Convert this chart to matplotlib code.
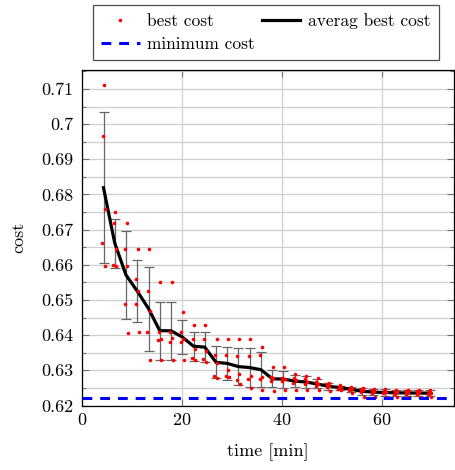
import numpy as np
import matplotlib
matplotlib.use("Agg")
import matplotlib.pyplot as plt
from matplotlib.ticker import FixedLocator, FuncFormatter
from matplotlib.lines import Line2D

plt.rcParams['font.family'] = ['cmr10', 'DejaVu Serif']
plt.rcParams['mathtext.fontset'] = 'cm'
plt.rcParams['axes.formatter.use_mathtext'] = True

# ---- data ----
group_times = [4.3, 6.55, 8.8, 11.05, 13.3, 15.55, 17.8, 20.05, 22.3, 24.55,
               26.8, 29.05, 31.3, 33.55, 35.8, 38.05, 40.3, 42.55, 44.8, 47.05,
               49.3, 51.55, 53.8, 56.05, 58.3, 60.55, 62.8, 65.05, 67.3, 69.55]
run_time_shift = [0.1, -0.2, 0.2, -0.3, 0.3]
best_cost = [
    [0.7111, 0.6966, 0.6759, 0.6663, 0.6597],
    [0.6750, 0.6718, 0.6645, 0.6599, 0.6597],
    [0.6718, 0.6645, 0.6597, 0.6488, 0.6407],
    [0.6645, 0.6560, 0.6525, 0.6488, 0.6408],
    [0.6645, 0.6526, 0.6469, 0.6408, 0.6330],
    [0.6550, 0.6409, 0.6390, 0.6385, 0.6330],
    [0.6550, 0.6410, 0.6392, 0.6380, 0.6330],
    [0.6466, 0.6409, 0.6389, 0.6380, 0.6330],
    [0.6429, 0.6389, 0.6360, 0.6335, 0.6330],
    [0.6429, 0.6389, 0.6355, 0.6332, 0.6325],
    [0.6389, 0.6344, 0.6320, 0.6283, 0.6278],
    [0.6389, 0.6344, 0.6300, 0.6285, 0.6280],
    [0.6389, 0.6340, 0.6290, 0.6272, 0.6262],
    [0.6389, 0.6340, 0.6285, 0.6275, 0.6250],
    [0.6365, 0.6344, 0.6280, 0.6275, 0.6245],
    [0.6310, 0.6280, 0.6278, 0.6270, 0.6242],
    [0.6310, 0.6277, 0.6275, 0.6270, 0.6243],
    [0.6290, 0.6277, 0.6272, 0.6265, 0.6243],
    [0.6285, 0.6276, 0.6268, 0.6262, 0.6243],
    [0.6277, 0.6268, 0.6262, 0.6256, 0.6243],
    [0.6265, 0.6260, 0.6256, 0.6252, 0.6240],
    [0.6258, 0.6254, 0.6252, 0.6248, 0.6243],
    [0.6252, 0.6250, 0.6247, 0.6245, 0.6236],
    [0.6250, 0.6246, 0.6243, 0.6238, 0.6225],
    [0.6248, 0.6243, 0.6240, 0.6236, 0.6223],
    [0.6246, 0.6242, 0.6239, 0.6235, 0.6223],
    [0.6245, 0.6241, 0.6238, 0.6234, 0.6223],
    [0.6244, 0.6240, 0.6237, 0.6234, 0.6223],
    [0.6244, 0.6240, 0.6237, 0.6233, 0.6223],
    [0.6243, 0.6240, 0.6236, 0.6233, 0.6223],
]
minimum_cost = 0.6222
x_ticks = [0, 20, 40, 60]
y_ticks = [0.62, 0.63, 0.64, 0.65, 0.66, 0.67, 0.68, 0.69, 0.70, 0.71]

# ---- derived ----
t = np.array(group_times)
bc = np.array(best_cost)
mean_cost = bc.mean(axis=1)
std_cost = bc.std(axis=1, ddof=1)
dot_t = (t[:, None] + np.array(run_time_shift)[None, :]).ravel()
dot_c = bc.ravel()

W, H = 455, 470
fig = plt.figure(figsize=(W / 100, H / 100), dpi=100)
ax = fig.add_axes([82 / W, (H - 405.5) / H, (454 - 82) / W, (405.5 - 70) / H])

FS = 13
LFS = 12.5
ax.set_xlim(0, 74.4)
ax.set_ylim(0.62, 0.7154)

ax.xaxis.set_major_locator(FixedLocator(x_ticks))
ax.yaxis.set_major_locator(FixedLocator(y_ticks))
ax.yaxis.set_minor_locator(FixedLocator([v + 0.005 for v in y_ticks]))
ax.yaxis.set_major_formatter(FuncFormatter(lambda v, p: '{:g}'.format(round(v, 3))))
ax.tick_params(which='both', direction='in', top=True, right=True, color='0.45',
               width=0.8, labelsize=FS)
ax.tick_params(which='major', length=5)
ax.tick_params(which='minor', length=3)
ax.tick_params(axis='y', pad=6)
ax.tick_params(axis='x', pad=5)

ax.grid(True, which='major', color='#cfcfcf', lw=0.9)
ax.grid(True, which='minor', axis='y', color='#cfcfcf', lw=0.9)
ax.set_axisbelow(True)
for s in ax.spines.values():
    s.set_linewidth(0.9)
    s.set_color('black')

ax.errorbar(t, mean_cost, yerr=std_cost, fmt='none', ecolor='0.4', elinewidth=0.9,
            capsize=3.3, capthick=0.9, zorder=2)
ax.plot(t, mean_cost, color='black', lw=2.3, zorder=3, solid_joinstyle='miter')
ax.plot(dot_t, dot_c, linestyle='none', marker='o', ms=2.6, mfc='red', mec='red',
        mew=0, zorder=4)
ax.axhline(minimum_cost, color='#0000ff', lw=2.2, dashes=(3.2, 2.6), zorder=5)

ax.set_xlabel('time [min]', fontsize=FS, labelpad=11)
ax.set_ylabel('cost', fontsize=FS, labelpad=11)

h_dot = Line2D([], [], linestyle='none', marker='o', ms=2.6, mfc='red', mec='red', mew=0)
h_min = Line2D([], [], color='#0000ff', lw=2.2, dashes=(3.2, 2.6))
h_avg = Line2D([], [], color='black', lw=2.3)
leg = fig.legend([h_dot, h_min, h_avg], ['best cost', 'minimum cost', 'averag best cost'],
                 ncol=2, loc='upper left', bbox_to_anchor=(93 / W, 1 - 4.7 / H),
                 fontsize=LFS, frameon=True, fancybox=False, edgecolor='0.3',
                 framealpha=1, handlelength=2.2, handletextpad=0.45,
                 columnspacing=0.4, borderpad=0.48, labelspacing=0.45,
                 borderaxespad=0)
leg.get_frame().set_linewidth(0.9)

fig.savefig('out.png', dpi=100)
